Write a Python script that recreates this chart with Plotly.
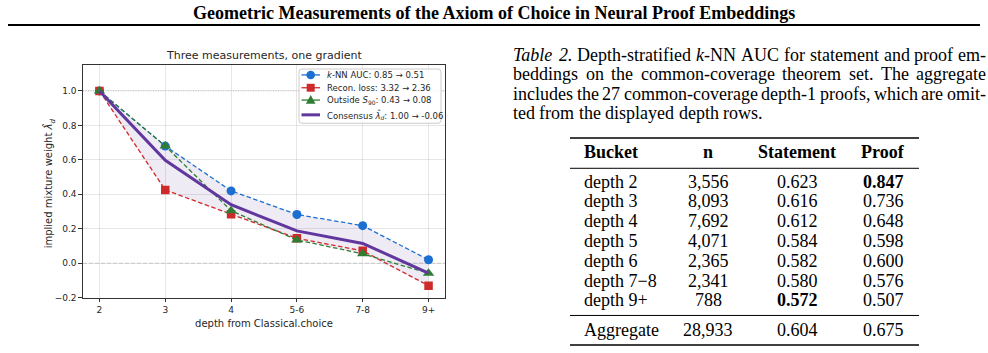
import re
import plotly.graph_objects as go
import numpy as np

W, H = 988, 353

# ---------------- data ----------------
depth_labels = ["2", "3", "4", "5-6", "7-8", "9+"]
knn_auc = [1.00, 0.68, 0.42, 0.283, 0.218, 0.02]
recon_loss = [1.00, 0.425, 0.285, 0.145, 0.072, -0.13]
outside_s90 = [1.00, 0.68, 0.305, 0.135, 0.055, -0.058]
consensus = [1.00, 0.597, 0.340, 0.188, 0.115, -0.057]
y_tick_vals = [-0.2, 0.0, 0.2, 0.4, 0.6, 0.8, 1.0]

series_names = [
    "<i>k</i>-NN AUC: 0.85 → 0.51",
    "Recon. loss: 3.32 → 2.36",
    "Outside <i>S</i><sub>90</sub>: 0.43 → 0.08",
    "Consensus <i>λ̂</i><sub><i>d</i></sub>: 1.00 → -0.06",
]

page_title = "Geometric Measurements of the Axiom of Choice in Neural Proof Embeddings"
chart_title = "Three measurements, one gradient"
x_title = "depth from Classical.choice"
y_title = "implied mixture weight <i>λ̂</i><sub><i>d</i></sub>"

caption_lines = [
    "<i>Table</i> <i>2.</i> Depth-stratified <i>k</i>-NN AUC for statement and proof em-",
    "beddings on the common-coverage theorem set. The aggregate",
    "includes the 27 common-coverage depth-1 proofs, which are omit-",
    "ted from the displayed depth rows.",
]

table_header = ["Bucket", "n", "Statement", "Proof"]
buckets = ["depth 2", "depth 3", "depth 4", "depth 5", "depth 6", "depth 7−8", "depth 9+"]
n_values = ["3,556", "8,093", "7,692", "4,071", "2,365", "2,341", "788"]
statement_auc = ["0.623", "0.616", "0.612", "0.584", "0.582", "0.580", "0.572"]
proof_auc = ["0.847", "0.736", "0.648", "0.598", "0.600", "0.576", "0.507"]
aggregate_row = ["Aggregate", "28,933", "0.604", "0.675"]
bold_cells = [(0, 3), (6, 2)]

# ---------------- styles ----------------
BLUE = "#1a6fd0"
RED = "#cf2a2a"
GREEN = "#2e7d32"
PURPLE = "#61379e"
SANS = "DejaVu Sans"
SERIF = "Liberation Serif"
TXT = "#262626"
TEXT_FS = 18


def px(x):
    return x / W


def py(y):
    return 1 - y / H


# approximate Times / Liberation Serif advance widths (per 1000 em)
TW = {" ": 250, ".": 250, ",": 250, "-": 333, ":": 278,
      "a": 444, "b": 500, "c": 444, "d": 500, "e": 444, "f": 333, "g": 500, "h": 500,
      "i": 278, "j": 278, "k": 500, "l": 278, "m": 778, "n": 500, "o": 500, "p": 500,
      "q": 500, "r": 333, "s": 389, "t": 278, "u": 500, "v": 500, "w": 722, "x": 500,
      "y": 500, "z": 444, "A": 722, "B": 667, "C": 667, "D": 722, "N": 722, "T": 611,
      "U": 722}


def text_width(s, fs):
    plain = re.sub(r"<[^>]+>", "", s)
    return sum(TW.get(c, 500) for c in plain) / 1000.0 * fs


fig = go.Figure()

xs = list(range(len(depth_labels)))
three = np.array([knn_auc, recon_loss, outside_s90])
upper = three.max(axis=0)
lower = three.min(axis=0)

fig.add_trace(go.Scatter(x=xs, y=upper, mode="lines", line=dict(width=0),
                         showlegend=False, hoverinfo="skip"))
fig.add_trace(go.Scatter(x=xs, y=lower, mode="lines", line=dict(width=0),
                         fill="tonexty", fillcolor="rgba(97,55,158,0.10)",
                         showlegend=False, hoverinfo="skip"))

dash = "4.5px,2.5px"
fig.add_trace(go.Scatter(x=xs, y=knn_auc, mode="lines+markers", name=series_names[0],
                         line=dict(color=BLUE, width=1.3, dash=dash),
                         marker=dict(symbol="circle", size=9, color=BLUE)))
fig.add_trace(go.Scatter(x=xs, y=recon_loss, mode="lines+markers", name=series_names[1],
                         line=dict(color=RED, width=1.3, dash=dash),
                         marker=dict(symbol="square", size=8.5, color=RED)))
fig.add_trace(go.Scatter(x=xs, y=outside_s90, mode="lines+markers", name=series_names[2],
                         line=dict(color=GREEN, width=1.3, dash=dash),
                         marker=dict(symbol="triangle-up", size=10, color=GREEN)))
fig.add_trace(go.Scatter(x=xs, y=consensus, mode="lines", name=series_names[3],
                         line=dict(color=PURPLE, width=3)))

shapes = []
# reference lines at 0 and 1
shapes.append(dict(type="line", xref="x domain", yref="y", x0=0, x1=1, y0=0, y1=0,
                   line=dict(color="rgba(128,128,128,0.45)", width=1, dash="4px,2px"),
                   layer="below"))
shapes.append(dict(type="line", xref="x domain", yref="y", x0=0, x1=1, y0=1, y1=1,
                   line=dict(color="rgba(128,128,128,0.45)", width=1, dash="1px,1.5px"),
                   layer="below"))

fig.update_xaxes(
    domain=[px(83), px(445)], range=[-0.25, len(depth_labels) - 0.75],
    tickmode="array", tickvals=xs, ticktext=depth_labels,
    showgrid=True, gridcolor="rgba(200,200,200,0.45)", gridwidth=1,
    showline=True, mirror=True, linecolor="#333", linewidth=1.2,
    ticks="outside", ticklen=3.5, tickcolor="#333", zeroline=False,
    tickfont=dict(family=SANS, size=9, color=TXT),
    title=dict(text=x_title, font=dict(family=SANS, size=10, color=TXT), standoff=5),
)
fig.update_yaxes(
    domain=[py(302), py(66)], range=[-0.2, 1.15],
    tickmode="array", tickvals=y_tick_vals, tickformat=".1f",
    showgrid=True, gridcolor="rgba(200,200,200,0.45)", gridwidth=1,
    showline=True, mirror=True, linecolor="#333", linewidth=1.2,
    ticks="outside", ticklen=3.5, tickcolor="#333", zeroline=False,
    tickfont=dict(family=SANS, size=9, color=TXT),
)

annotations = []
# y axis title (manual placement)
annotations.append(dict(text=y_title, x=px(49), y=py(186), xref="paper", yref="paper",
                        showarrow=False, textangle=-90, xanchor="center", yanchor="middle",
                        font=dict(family=SANS, size=10, color=TXT)))
annotations.append(dict(text=chart_title, x=px(264), y=py(56), xref="paper", yref="paper",
                        showarrow=False, xanchor="center", yanchor="middle",
                        font=dict(family=SANS, size=11, color=TXT)))

# ---------- manual legend ----------
lx0, lx1, ly0, ly1, r = 299, 441, 70, 125, 3
rx, ry = r / W, r / H
X0, X1, Y0, Y1 = px(lx0), px(lx1), py(ly0), py(ly1)
box_path = (f"M {X0+rx},{Y0} L {X1-rx},{Y0} Q {X1},{Y0} {X1},{Y0-ry} "
            f"L {X1},{Y1+ry} Q {X1},{Y1} {X1-rx},{Y1} L {X0+rx},{Y1} "
            f"Q {X0},{Y1} {X0},{Y1+ry} L {X0},{Y0-ry} Q {X0},{Y0} {X0+rx},{Y0} Z")
shapes.append(dict(type="path", xref="paper", yref="paper", path=box_path,
                   line=dict(color="#cccccc", width=1), fillcolor="rgba(255,255,255,0.85)"))
leg_rows = [76, 89, 101.5, 116.5]
leg_colors = [BLUE, RED, GREEN, PURPLE]
sx0, sx1, sxc = 301.5, 320, 310.7
for i, (yy, col) in enumerate(zip(leg_rows, leg_colors)):
    shapes.append(dict(type="line", xref="paper", yref="paper", x0=px(sx0), x1=px(sx1),
                       y0=py(yy), y1=py(yy),
                       line=dict(color=col, width=3 if i == 3 else 1.3)))
    if i == 0:
        rr = 4.3
        shapes.append(dict(type="circle", xref="paper", yref="paper",
                           x0=px(sxc - rr), x1=px(sxc + rr), y0=py(yy + rr), y1=py(yy - rr),
                           fillcolor=col, line=dict(color=col, width=0)))
    elif i == 1:
        rr = 4.0
        shapes.append(dict(type="rect", xref="paper", yref="paper",
                           x0=px(sxc - rr), x1=px(sxc + rr), y0=py(yy + rr), y1=py(yy - rr),
                           fillcolor=col, line=dict(color=col, width=0)))
    elif i == 2:
        rr = 4.8
        tri = (f"M {px(sxc - rr)},{py(yy + rr*0.8)} L {px(sxc + rr)},{py(yy + rr*0.8)} "
               f"L {px(sxc)},{py(yy - rr*1.05)} Z")
        shapes.append(dict(type="path", xref="paper", yref="paper", path=tri,
                           fillcolor=col, line=dict(color=col, width=0)))
    annotations.append(dict(text=series_names[i], x=px(324.5), y=py(yy), xref="paper",
                            yref="paper", showarrow=False, xanchor="left", yanchor="middle",
                            font=dict(family=SANS, size=8.5, color=TXT)))

# ---------- page title ----------
annotations.append(dict(text="<b>" + page_title + "</b>", x=px(494), y=py(13.5), xref="paper",
                        yref="paper", showarrow=False, xanchor="center", yanchor="middle",
                        font=dict(family=SERIF, size=18, color="black")))
shapes.append(dict(type="line", xref="paper", yref="paper", x0=px(8), x1=px(980),
                   y0=py(25.3), y1=py(25.3), line=dict(color="black", width=2)))

# ---------- caption (justified word by word) ----------
cap_left, cap_right = 511, 984
cap_y = [56, 75.5, 95, 114.5]
for li, (line, yy) in enumerate(zip(caption_lines, cap_y)):
    words = line.split(" ")
    widths = [text_width(w_, TEXT_FS) for w_ in words]
    if li < len(caption_lines) - 1 and len(words) > 1:
        gap = (cap_right - cap_left - sum(widths)) / (len(words) - 1)
    else:
        gap = 0.25 * TEXT_FS
    xcur = cap_left
    for w_, wd in zip(words, widths):
        annotations.append(dict(text=w_, x=px(xcur), y=py(yy), xref="paper", yref="paper",
                                showarrow=False, xanchor="left", yanchor="middle",
                                font=dict(family=SERIF, size=TEXT_FS, color="black")))
        xcur += wd + gap

# ---------- table ----------
col_x = [582, 708, 797, 883]
col_anchor = ["left", "center", "center", "center"]
header_y = 154
row_y = [184.3, 204.3, 224.6, 244.7, 264.8, 284.8, 304.5]
agg_y = 334.3
TFS = TEXT_FS

for j, h in enumerate(table_header):
    annotations.append(dict(text="<b>" + h + "</b>", x=px(col_x[j]), y=py(header_y),
                            xref="paper", yref="paper", showarrow=False,
                            xanchor=col_anchor[j], yanchor="middle",
                            font=dict(family=SERIF, size=TFS, color="black")))

rows = list(zip(buckets, n_values, statement_auc, proof_auc))
for i, row in enumerate(rows):
    for j, cell in enumerate(row):
        txt = "<b>" + cell + "</b>" if (i, j) in bold_cells else cell
        annotations.append(dict(text=txt, x=px(col_x[j]), y=py(row_y[i]),
                                xref="paper", yref="paper", showarrow=False,
                                xanchor=col_anchor[j], yanchor="middle",
                                font=dict(family=SERIF, size=TFS, color="black")))
for j, cell in enumerate(aggregate_row):
    annotations.append(dict(text=cell, x=px(col_x[j]), y=py(agg_y),
                            xref="paper", yref="paper", showarrow=False,
                            xanchor=col_anchor[j], yanchor="middle",
                            font=dict(family=SERIF, size=TFS, color="black")))

for yy, wdt in [(140, 1.6), (170.7, 1.0), (320, 1.0), (350, 1.6)]:
    shapes.append(dict(type="line", xref="paper", yref="paper", x0=px(570), x1=px(919),
                       y0=py(yy), y1=py(yy), line=dict(color="black", width=wdt)))

fig.update_layout(
    width=W, height=H, margin=dict(l=0, r=0, t=0, b=0),
    paper_bgcolor="white", plot_bgcolor="white",
    annotations=annotations, shapes=shapes,
    showlegend=False,
)

fig.write_html("out.html")
